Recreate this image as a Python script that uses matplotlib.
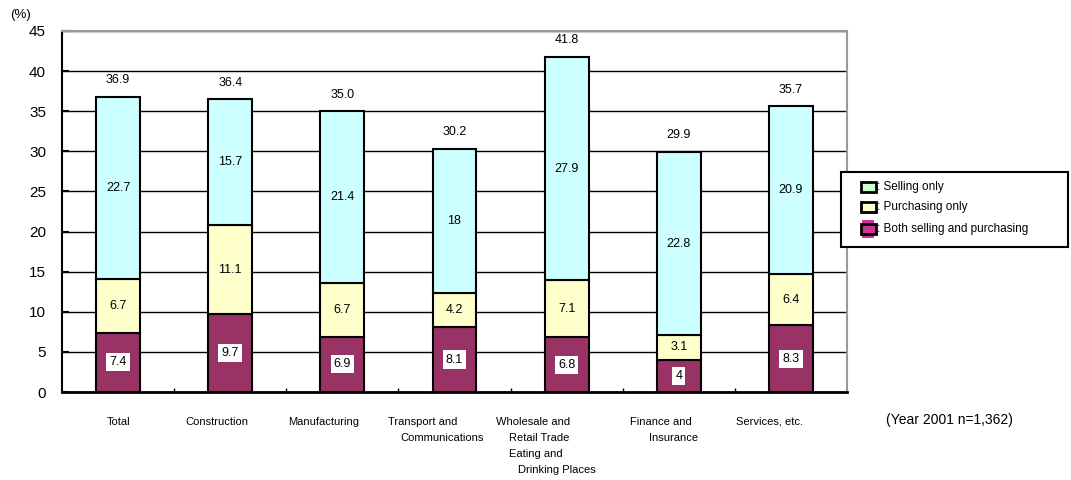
import matplotlib
matplotlib.use("Agg")
import matplotlib.pyplot as plt
from matplotlib.patches import Rectangle

plt.rcParams['font.family'] = ['Liberation Sans', 'DejaVu Sans']

categories = ["Total", "Construction", "Manufacturing", "Transport and Communications",
              "Wholesale and Retail Trade Eating and Drinking Places",
              "Finance and Insurance", "Services, etc."]
both = [7.4, 9.7, 6.9, 8.1, 6.8, 4.0, 8.3]
purchasing = [6.7, 11.1, 6.7, 4.2, 7.1, 3.1, 6.4]
selling = [22.7, 15.7, 21.4, 18.0, 27.9, 22.8, 20.9]
both_labels = ["7.4", "9.7", "6.9", "8.1", "6.8", "4", "8.3"]
purchasing_labels = ["6.7", "11.1", "6.7", "4.2", "7.1", "3.1", "6.4"]
selling_labels = ["22.7", "15.7", "21.4", "18", "27.9", "22.8", "20.9"]
total_labels = ["36.9", "36.4", "35.0", "30.2", "41.8", "29.9", "35.7"]
yticks = [0, 5, 10, 15, 20, 25, 30, 35, 40, 45]
legend_labels = [": Selling only", ": Purchasing only", ": Both selling and purchasing"]

# tick-label lines for each category: (text, left offset from bar centre in px)
xlabel_lines = [
    [("Total", -11)],
    [("Construction", -45)],
    [("Manufacturing", -54)],
    [("Transport and", -66), ("Communications", -54)],
    [("Wholesale and", -71), ("Retail Trade", -58), ("Eating and", -58), ("Drinking Places", -49)],
    [("Finance and", -49), ("Insurance", -30)],
    [("Services, etc.", -55)],
]

C_BOTH = "#993366"
C_PURCH = "#FFFFCC"
C_SELL = "#CCFFFF"
LEG_COLORS = ["#CCFFCC", "#FFFFCC", "#CC3399"]

W, H = 1071, 480
fig = plt.figure(figsize=(W / 100, H / 100), dpi=100)
ax = fig.add_axes([62 / W, 88 / H, 785 / W, 361 / H])

x = list(range(len(categories)))
w = 0.39
ax.bar(x, both, w, color=C_BOTH, edgecolor="black", linewidth=1.5, zorder=3)
ax.bar(x, purchasing, w, bottom=both, color=C_PURCH, edgecolor="black", linewidth=1.5, zorder=3)
bottom3 = [a + b for a, b in zip(both, purchasing)]
ax.bar(x, selling, w, bottom=bottom3, color=C_SELL, edgecolor="black", linewidth=1.5, zorder=3)

fs_val = 9
for i in x:
    ax.text(i, both[i] / 2, both_labels[i], ha="center", va="center", fontsize=fs_val, zorder=5,
            bbox=dict(boxstyle="square,pad=0.25", fc="white", ec="none"))
    ax.text(i, both[i] + purchasing[i] / 2, purchasing_labels[i], ha="center", va="center",
            fontsize=fs_val, zorder=5)
    ax.text(i, bottom3[i] + selling[i] / 2, selling_labels[i], ha="center", va="center",
            fontsize=fs_val, zorder=5)
    top = bottom3[i] + selling[i]
    ax.annotate(total_labels[i], (i, top), xytext=(0, 12), textcoords="offset points",
                ha="center", va="center", fontsize=fs_val)

ax.set_xlim(-0.5, len(categories) - 0.5)
ax.set_ylim(0, 45)
ax.set_yticks(yticks)
ax.set_yticklabels([str(v) for v in yticks], fontsize=11)
ax.yaxis.grid(True, color="black", linewidth=1, zorder=0)
ax.set_axisbelow(True)

ax.set_xticks([i + 0.5 for i in x[:-1]])
ax.set_xticklabels([])
ax.tick_params(axis="x", direction="in", length=3, width=1)
ax.tick_params(axis="y", direction="in", length=5, width=1.5, pad=11.5)

for s in ["top", "right"]:
    ax.spines[s].set_color("#999999")
    ax.spines[s].set_linewidth(1.5)
ax.spines["left"].set_color("black")
ax.spines["left"].set_linewidth(1.5)
ax.spines["bottom"].set_color("black")
ax.spines["bottom"].set_linewidth(2)

# category labels below the axis
for i, lines in enumerate(xlabel_lines):
    for j, (txt, dx) in enumerate(lines):
        ax.annotate(txt, (i, 0), xycoords=("data", "axes fraction"),
                    xytext=(dx * 0.72, -(30 + 16 * j) * 0.72), textcoords="offset points",
                    ha="left", va="center", fontsize=8)

fig.text(10 / W, 1 - 15 / H, "(%)", fontsize=9.5, ha="left", va="center")
fig.text(886 / W, 1 - 420 / H, "(Year 2001 n=1,362)", fontsize=10, ha="left", va="center")

# legend box drawn in figure pixel coordinates
def px(xp, yp):
    return xp / W, 1 - yp / H

lx0, ly0, lx1, ly1 = 841, 172, 1068, 247
fig.patches.append(Rectangle(px(lx0, ly1), (lx1 - lx0) / W, (ly1 - ly0) / H,
                             transform=fig.transFigure, fc="white", ec="black", lw=1.5))
rows_y = [187, 207, 229]
for k, (yc, lab, col) in enumerate(zip(rows_y, legend_labels, LEG_COLORS)):
    if k == 2:
        fig.patches.append(Rectangle(px(862, yc + 9), 12 / W, 18 / H, transform=fig.transFigure,
                                     fc=col, ec="none", zorder=2))
    fig.patches.append(Rectangle(px(861, yc + 5), 15 / W, 10 / H, transform=fig.transFigure,
                                 fc=col, ec="black", lw=2, zorder=3))
    fig.text(*px(877, yc), lab, fontsize=8.5, ha="left", va="center")

fig.savefig("out.png", dpi=100)
